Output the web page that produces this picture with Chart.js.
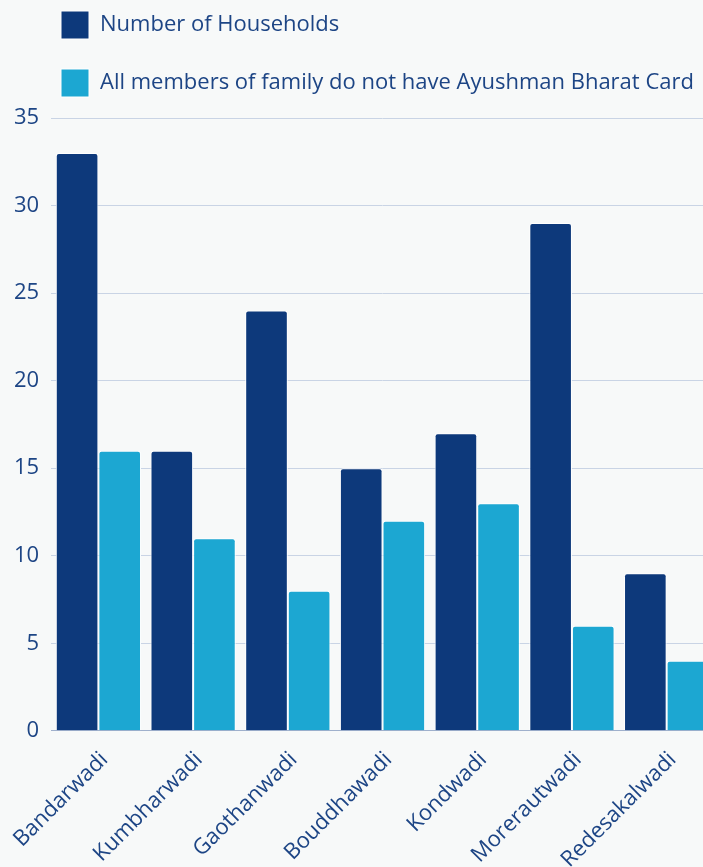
<!DOCTYPE html>
<html>
<head>
<meta charset="utf-8">
<script src="https://cdn.jsdelivr.net/npm/chart.js@4"></script>
<style>
html,body{margin:0;padding:0;background:#f7f9f9;overflow:hidden;}
#wrap{position:relative;width:714px;height:867px;}
</style>
</head>
<body>
<div id="wrap"><canvas id="c"></canvas></div>
<script>
const categories = ["Bandarwadi","Kumbharwadi","Gaothanwadi","Bouddhawadi","Kondwadi","Morerautwadi","Redesakalwadi"];
const households = [33,16,24,15,17,29,9];
const noCard = [16,11,8,12,13,6,4];
const seriesNames = ["Number of Households","All members of family do not have Ayushman Bharat Card"];
const textColor = "#1d4585";
const fontFamily = "'Open Sans', Lato, sans-serif";

const legendShift = {
  id: 'legendShift',
  afterLayout(chart) {
    const lg = chart.legend;
    lg.left += 31; lg.right += 31;
    lg.top -= 11; lg.bottom -= 11;
  }
};

new Chart(document.getElementById('c'), {
  type: 'bar',
  data: {
    labels: categories,
    datasets: [
      {label: seriesNames[0], data: households, backgroundColor: '#0d397b', borderColor: '#ffffff', borderWidth: 1, borderSkipped: 'bottom', borderRadius: 3, categoryPercentage: 0.9, barPercentage: 1.0},
      {label: seriesNames[1], data: noCard, backgroundColor: '#1ca7d2', borderColor: '#ffffff', borderWidth: 1, borderSkipped: 'bottom', borderRadius: 3, categoryPercentage: 0.9, barPercentage: 1.0}
    ]
  },
  options: {
    responsive: true,
    maintainAspectRatio: false,
    animation: false,
    layout: {padding: {top: -8, right: 0, bottom: -14, left: 0}},
    plugins: {
      tooltip: {enabled: false},
      legend: {
        position: 'top',
        align: 'start',
        labels: {
          boxWidth: 28, boxHeight: 28, padding: 30,
          color: textColor,
          font: {family: fontFamily, size: 22}
        }
      }
    },
    scales: {
      x: {
        grid: {display: false},
        border: {display: true, color: '#9fb0cc'},
        ticks: {color: textColor, font: {family: fontFamily, size: 22}, maxRotation: 45, minRotation: 45, padding: 8, labelOffset: 6}
      },
      y: {
        min: 0, max: 35,
        ticks: {stepSize: 5, color: textColor, font: {family: fontFamily, size: 22}, padding: 12},
        grid: {color: '#c9d4e5', lineWidth: 1, drawTicks: false},
        border: {display: false}
      }
    }
  },
  plugins: [legendShift]
});
</script>
</body>
</html>
